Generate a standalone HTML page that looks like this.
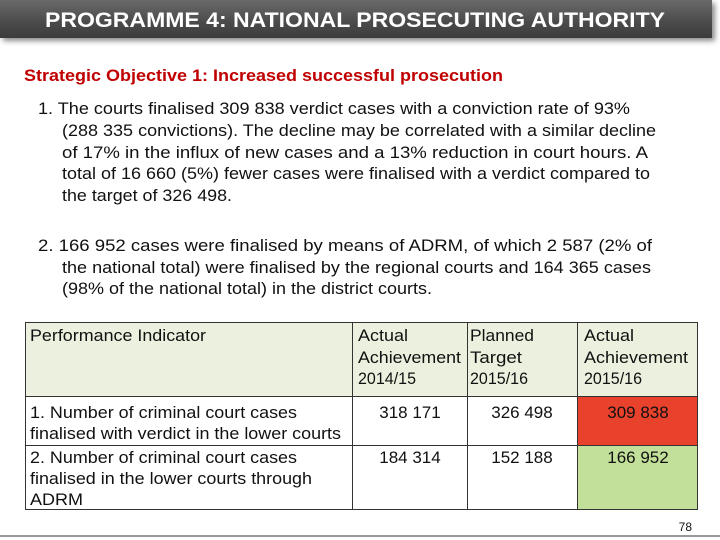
<!DOCTYPE html>
<html><head><meta charset="utf-8"><style>
body{margin:0;width:720px;height:540px;background:#fff;font-family:"Liberation Sans",sans-serif;position:relative;overflow:hidden}
#hdr{position:absolute;left:0;top:0;width:712px;height:38px;background:linear-gradient(#6a6a6a,#4a4a4a 60%,#3c3c3c);box-shadow:3px 3px 5px rgba(0,0,0,.45)}
svg{position:absolute;left:0;top:0}
text{font-family:"Liberation Sans",sans-serif}
</style></head><body>
<div id="hdr"></div>
<svg width="720" height="540">
<text x="45" y="27" font-size="21" font-weight="bold" fill="#fff" textLength="620" lengthAdjust="spacingAndGlyphs">PROGRAMME 4: NATIONAL PROSECUTING AUTHORITY</text>
<text x="24" y="81" font-size="16.5" font-weight="bold" fill="#c00000" textLength="479" lengthAdjust="spacingAndGlyphs">Strategic Objective 1: Increased successful prosecution</text>
<g font-size="17" fill="#111">
<text x="38" y="114" textLength="592" lengthAdjust="spacingAndGlyphs">1.  The courts finalised 309 838 verdict cases with a conviction rate of 93%</text>
<text x="62" y="136" textLength="594" lengthAdjust="spacingAndGlyphs">(288 335 convictions). The decline may be correlated with a similar decline</text>
<text x="62" y="158" textLength="586" lengthAdjust="spacingAndGlyphs">of 17% in the influx of new cases and a 13% reduction in court hours. A</text>
<text x="62" y="179" textLength="588" lengthAdjust="spacingAndGlyphs">total of 16 660 (5%) fewer cases were finalised with a verdict compared to</text>
<text x="62" y="201" textLength="170" lengthAdjust="spacingAndGlyphs">the target of 326 498.</text>
</g>
<g font-size="17" fill="#111">
<text x="38" y="251" textLength="614" lengthAdjust="spacingAndGlyphs">2.  166 952 cases were finalised by means of ADRM, of which 2 587 (2% of</text>
<text x="62" y="273" textLength="589" lengthAdjust="spacingAndGlyphs">the national total) were finalised by the regional courts and 164 365 cases</text>
<text x="62" y="294" textLength="370" lengthAdjust="spacingAndGlyphs">(98% of the national total) in the district courts.</text>
</g>
<g>
<rect x="25" y="322" width="673" height="74" fill="#ebf1de"/>
<rect x="577" y="396" width="121" height="49" fill="#e8412c"/>
<rect x="577" y="445" width="121" height="65" fill="#c3e09a"/>
<g stroke="#333" stroke-width="1" fill="none">
<rect x="25.5" y="322.5" width="672" height="187"/>
<line x1="25" y1="396.5" x2="698" y2="396.5"/>
<line x1="25" y1="445.5" x2="698" y2="445.5"/>
<line x1="352.5" y1="322" x2="352.5" y2="510"/>
<line x1="467.5" y1="322" x2="467.5" y2="510"/>
<line x1="577.5" y1="322" x2="577.5" y2="510"/>
</g>
<g font-size="17" fill="#111">
<text x="30" y="341" textLength="176" lengthAdjust="spacingAndGlyphs">Performance Indicator</text>
<text x="358" y="341" textLength="50" lengthAdjust="spacingAndGlyphs">Actual</text>
<text x="358" y="363" textLength="103" lengthAdjust="spacingAndGlyphs">Achievement</text>
<text x="358" y="384" textLength="58" lengthAdjust="spacingAndGlyphs">2014/15</text>
<text x="470" y="341" textLength="64" lengthAdjust="spacingAndGlyphs">Planned</text>
<text x="470" y="363" textLength="52" lengthAdjust="spacingAndGlyphs">Target</text>
<text x="470" y="384" textLength="58" lengthAdjust="spacingAndGlyphs">2015/16</text>
<text x="584" y="341" textLength="50" lengthAdjust="spacingAndGlyphs">Actual</text>
<text x="584" y="363" textLength="104" lengthAdjust="spacingAndGlyphs">Achievement</text>
<text x="584" y="384" textLength="58" lengthAdjust="spacingAndGlyphs">2015/16</text>
<text x="30" y="418" textLength="267" lengthAdjust="spacingAndGlyphs">1. Number of criminal court cases</text>
<text x="30" y="439" textLength="311" lengthAdjust="spacingAndGlyphs">finalised with verdict in the lower courts</text>
<text x="30" y="463" textLength="267" lengthAdjust="spacingAndGlyphs">2. Number of criminal court cases</text>
<text x="30" y="484" textLength="282" lengthAdjust="spacingAndGlyphs">finalised in the lower courts through</text>
<text x="30" y="505" textLength="53" lengthAdjust="spacingAndGlyphs">ADRM</text>
<g text-anchor="middle">
<text x="410" y="418">318 171</text>
<text x="522" y="418">326 498</text>
<text x="638" y="418">309 838</text>
<text x="410" y="463">184 314</text>
<text x="522" y="463">152 188</text>
<text x="638" y="463">166 952</text>
</g>
</g>
</g>
<text x="692" y="531" font-size="12" text-anchor="end" fill="#111">78</text>
<rect x="0" y="535" width="720" height="2" fill="#999"/>
</svg>
</body></html>
